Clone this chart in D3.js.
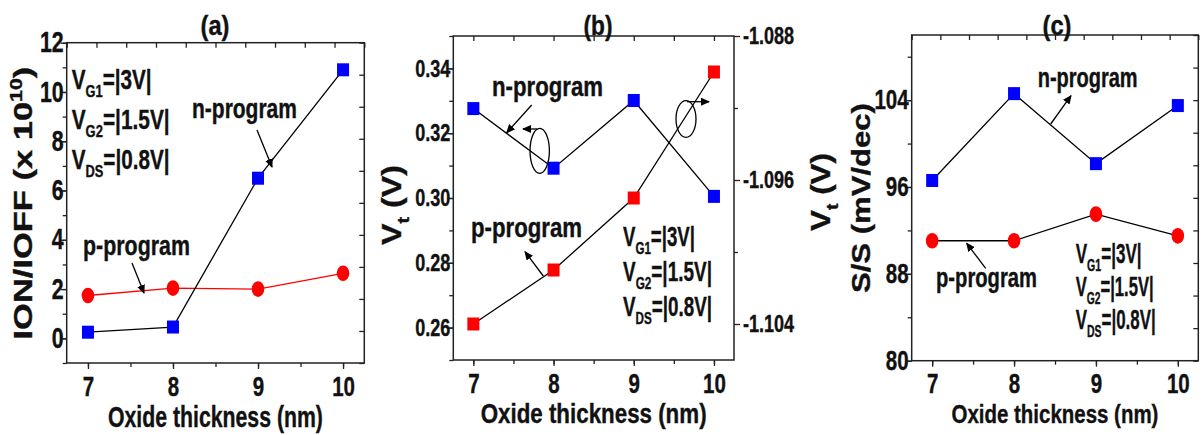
<!DOCTYPE html>
<html lang="en">
<head>
  <meta charset="UTF-8">
  <title>Oxide thickness</title>
  <script src="https://d3js.org/d3.v7.min.js"></script>
  <style>
    body { margin: 0; background: white; }
    text { fill: #111; stroke: #111; stroke-width: 0.35; font-weight: bold;
           font-family: 'Liberation Sans', Arial, sans-serif; }
  </style>
</head>
<body>
<script>
  // values
  const thickness = [7, 8, 9, 10];
  const xTickLabels = [7, 8, 9, 10];

  // (a) ION/IOFF (x 10^10)
  const onOffN = [0.25, 0.46, 6.5, 10.9];
  const onOffP = [1.74, 2.04, 2.0, 2.64];
  const onOffTicks = [0, 2, 4, 6, 8, 10, 12];

  // (b) Vt, n-program on left axis, p-program on right axis
  const vtN = [0.3276, 0.3092, 0.3301, 0.3005];
  const vtP = [-1.104, -1.101, -1.097, -1.090];
  const vtLeftTicks = [0.26, 0.28, 0.30, 0.32, 0.34];
  const vtRightTicks = [-1.104, -1.096, -1.088];

  // (c) S/S (mV/dec)
  const ssN = [96.6, 104.6, 98.15, 103.5];
  const ssP = [91.05, 91.05, 93.5, 91.5];
  const ssTicks = [80, 88, 96, 104];

  const BLUE = "#0000ff", RED = "#ff0000";
  const NARROW = 0.82;   // no narrow face installed, squeeze Liberation Sans instead
  const TALL = 1.1;      // the source figure is a little stretched vertically

  const svg = d3.select("body").append("svg")
          .attr("width", 1204).attr("height", 435);

  svg.append("defs").append("marker")
          .attr("id", "arrow")
          .attr("markerUnits", "userSpaceOnUse")
          .attr("markerWidth", 9).attr("markerHeight", 8)
          .attr("refX", 8).attr("refY", 4)
          .attr("orient", "auto")
          .append("path").attr("d", "M0,0 L9,4 L0,8 Z").attr("fill", "#000");

  const xMinor = d3.range(14, 21).map(v => v / 2);
  const dash = f => d => f(d).replace("\u2212", "-");

  // draws an axis, strips the domain line, styles ticks and labels
  function axis(g, tx, ty, ax, size) {
    const a = g.append("g").attr("transform", `translate(${tx},${ty})`).call(ax);
    a.select(".domain").remove();
    a.selectAll("line").attr("stroke", "#222").attr("stroke-width", 1.3);
    a.selectAll("text")
            .attr("font-size", size || null).attr("font-family", null)
            .attr("fill", "#111").attr("font-weight", "bold")
            .attr("transform", `scale(${NARROW},${TALL})`);
    return a;
  }

  // builds one framed panel with the bottom axis, returns scales
  function makePanel(box, yDomain) {
    const g = svg.append("g");
    const x = d3.scaleLinear().domain([6.75, 10.25]).range([box.left, box.right]);
    const y = d3.scaleLinear().domain(yDomain).range([box.bottom, box.top]);

    axis(g, 0, box.bottom, d3.axisBottom(x).tickValues(xMinor).tickSize(4).tickFormat(""));
    axis(g, 0, box.bottom, d3.axisBottom(x).tickValues(xTickLabels).tickSize(6).tickPadding(6)
            .tickFormat(d3.format("d")), 25);

    g.append("rect")
            .attr("x", box.left).attr("y", box.top)
            .attr("width", box.right - box.left).attr("height", box.bottom - box.top)
            .attr("fill", "none").attr("stroke", "#222").attr("stroke-width", 1.5);
    return {g, x, y, box};
  }

  function series(p, xs, ys, yScale, lineColor, shape, color) {
    const line = d3.line().x((d, i) => p.x(xs[i])).y(d => yScale(d));
    p.g.append("path").datum(ys)
            .attr("d", line).attr("fill", "none")
            .attr("stroke", lineColor).attr("stroke-width", 1.3);
    const pts = p.g.append("g").selectAll("g").data(ys).join("g")
            .attr("transform", (d, i) => `translate(${p.x(xs[i])},${yScale(d)})`);
    if (shape === "square") {
      pts.append("rect").attr("x", -6).attr("y", -6.5).attr("width", 12).attr("height", 13).attr("fill", color);
    } else {
      pts.append("ellipse").attr("rx", 6.3).attr("ry", 7.8).attr("fill", color);
    }
  }

  // text with sub/superscripts: parts = [[text, "sub"|"sup"|""], ...]
  // w = run length seen in the picture; the text is squeezed/stretched to it
  function label(g, x, y, parts, size, w, opts = {}) {
    const sy = opts.sy || TALL;
    const t = g.append("text").attr("font-size", size);
    let shift = 0;
    parts.forEach(([s, kind]) => {
      const target = kind === "sub" ? size * 0.28 : kind === "sup" ? -size * 0.38 : 0;
      t.append("tspan")
              .attr("dy", target - shift)
              .attr("font-size", kind ? size * 0.62 : size)
              .text(s);
      shift = target;
    });
    const width = t.node().getBBox().width;
    // centre the whole run by hand (anchor=middle only centres the first tspan)
    if (opts.anchor === "middle") t.attr("x", -width / 2);
    t.attr("transform", `translate(${x},${y}) rotate(${opts.rotate || 0}) scale(${w / width},${sy})`);
    return t;
  }

  function arrow(g, x1, y1, x2, y2) {
    g.append("line").attr("x1", x1).attr("y1", y1).attr("x2", x2).attr("y2", y2)
            .attr("stroke", "#000").attr("stroke-width", 1.3).attr("marker-end", "url(#arrow)");
  }

  function ring(g, cx, cy, rx, ry) {
    g.append("ellipse").attr("cx", cx).attr("cy", cy).attr("rx", rx).attr("ry", ry)
            .attr("fill", "none").attr("stroke", "#000").attr("stroke-width", 1.3);
  }

  function biasText(g, x, y0, step, widths) {
    label(g, x, y0, [["V", ""], ["G1", "sub"], ["=|3V|", ""]], 25, widths[0]);
    label(g, x, y0 + step, [["V", ""], ["G2", "sub"], ["=|1.5V|", ""]], 25, widths[1]);
    label(g, x, y0 + 2 * step, [["V", ""], ["DS", "sub"], ["=|0.8V|", ""]], 25, widths[2]);
  }

  function titles(p, title, titleX, xLabelY, xLabelW, xLabelSize) {
    label(p.g, titleX, 35, [[title, ""]], 25, 29, {anchor: "middle"});
    label(p.g, (p.box.left + p.box.right) / 2, xLabelY, [["Oxide thickness (nm)", ""]], xLabelSize,
            xLabelW, {anchor: "middle"});
  }

  const yTitle = {anchor: "middle", rotate: -90, sy: 1};

  // ---------- (a) ----------
  const pa = makePanel({left: 66.7, right: 364.3, top: 42.7, bottom: 363}, [-1, 12]);
  axis(pa.g, pa.box.left, 0, d3.axisLeft(pa.y).tickValues(d3.range(-1, 13)).tickSize(4).tickFormat(""));
  axis(pa.g, pa.box.left, 0, d3.axisLeft(pa.y).tickValues(onOffTicks).tickSize(6).tickPadding(-2.3)
          .tickFormat(d3.format("d")), 26);
  const aTop = d3.scaleLinear().domain([0, 10]).range([pa.box.left, pa.box.right]);
  axis(pa.g, 0, pa.box.top, d3.axisTop(aTop).ticks(10).tickSize(-5).tickFormat(""));
  const aRight = d3.scaleLinear().domain([0, 10]).range([pa.box.bottom, pa.box.top]);
  axis(pa.g, pa.box.right, 0, d3.axisRight(aRight).ticks(10).tickSize(-5).tickFormat(""));

  series(pa, thickness, onOffP, pa.y, RED, "circle", RED);
  series(pa, thickness, onOffN, pa.y, "#000", "square", BLUE);
  titles(pa, "(a)", 215, 427, 215, 26);
  label(pa.g, 32, 203, [["ION/IOFF (x 10", ""], ["10", "sup"], [")", ""]], 26, 273, yTitle);
  biasText(pa.g, 71.7, 89, 40, [80, 98, 98]);
  label(pa.g, 192, 118, [["n-program", ""]], 25, 105);
  label(pa.g, 83, 255, [["p-program", ""]], 25, 107);
  arrow(pa.g, 257, 130, 272, 167);
  arrow(pa.g, 132, 263, 144, 293);

  // ---------- (b) ----------
  const pb = makePanel({left: 453.3, right: 734, top: 36, bottom: 360}, [0.25, 0.35]);
  const bRight = d3.scaleLinear().domain([-1.106, -1.088]).range([pb.box.bottom, pb.box.top]);
  axis(pb.g, pb.box.left, 0, d3.axisLeft(pb.y).tickValues(d3.range(25, 36).map(v => v / 100))
          .tickSize(4).tickFormat(""));
  axis(pb.g, pb.box.left, 0, d3.axisLeft(pb.y).tickValues(vtLeftTicks).tickSize(6).tickPadding(-2.3)
          .tickFormat(d3.format(".2f")), 22);
  axis(pb.g, 0, pb.box.top, d3.axisTop(pb.x).tickValues(xMinor).tickSize(-5).tickFormat(""));
  axis(pb.g, pb.box.right, 0, d3.axisRight(bRight).tickValues([-1.1, -1.092]).tickSize(4).tickFormat(""));
  axis(pb.g, pb.box.right, 0, d3.axisRight(bRight).tickValues(vtRightTicks).tickSize(6).tickPadding(5)
          .tickFormat(dash(d3.format(".3f"))), 22);

  series(pb, thickness, vtP, bRight, "#000", "square", RED);
  series(pb, thickness, vtN, pb.y, "#000", "square", BLUE);
  titles(pb, "(b)", 598, 423, 226, 25);
  label(pb.g, 401, 205, [["V", ""], ["t", "sub"], [" (V)", ""]], 27, 80, yTitle);
  label(pb.g, 830, 192, [["V", ""], ["t", "sub"], [" (V)", ""]], 27, 78, yTitle);
  biasText(pb.g, 623, 246, 35, [72, 89, 89]);
  label(pb.g, 492, 96, [["n-program", ""]], 25, 111);
  label(pb.g, 471, 237, [["p-program", ""]], 25, 111);
  arrow(pb.g, 531.7, 105, 506.7, 132.7);
  arrow(pb.g, 543.3, 276, 525, 251.7);
  ring(pb.g, 539.7, 150.8, 9.7, 22.5);
  arrow(pb.g, 537, 129, 523, 129);
  ring(pb.g, 686, 119, 10, 18.3);
  arrow(pb.g, 687, 101.7, 709, 101.7);

  // ---------- (c) ----------
  const pc = makePanel({left: 911.7, right: 1198.3, top: 35, bottom: 360.7}, [80, 110]);
  axis(pc.g, pc.box.left, 0, d3.axisLeft(pc.y).tickValues(d3.range(80, 111, 4)).tickSize(4).tickFormat(""));
  axis(pc.g, pc.box.left, 0, d3.axisLeft(pc.y).tickValues(ssTicks).tickSize(6).tickPadding(-2.3)
          .tickFormat(d3.format("d")), 25);
  const cTop = d3.scaleLinear().domain([0, 10]).range([pc.box.left, pc.box.right]);
  axis(pc.g, 0, pc.box.top, d3.axisTop(cTop).ticks(10).tickSize(-5).tickFormat(""));
  axis(pc.g, pc.box.right, 0, d3.axisRight(pc.y).tickValues(d3.range(80, 111, 3)).tickSize(-5).tickFormat(""));

  series(pc, thickness, ssP, pc.y, "#000", "circle", RED);
  series(pc, thickness, ssN, pc.y, "#000", "square", BLUE);
  titles(pc, "(c)", 1057, 423, 207, 24);
  label(pc.g, 870, 198, [["S/S (mV/dec)", ""]], 25, 190, yTitle);
  biasText(pc.g, 1075.7, 263, 33, [66, 78, 80]);
  label(pc.g, 1037.7, 87, [["n-program", ""]], 25, 100);
  label(pc.g, 936, 287, [["p-program", ""]], 25, 101);
  arrow(pc.g, 1050.7, 124, 1071, 95.7);
  arrow(pc.g, 985.7, 268.3, 966.7, 243.3);
</script>
</body>
</html>
